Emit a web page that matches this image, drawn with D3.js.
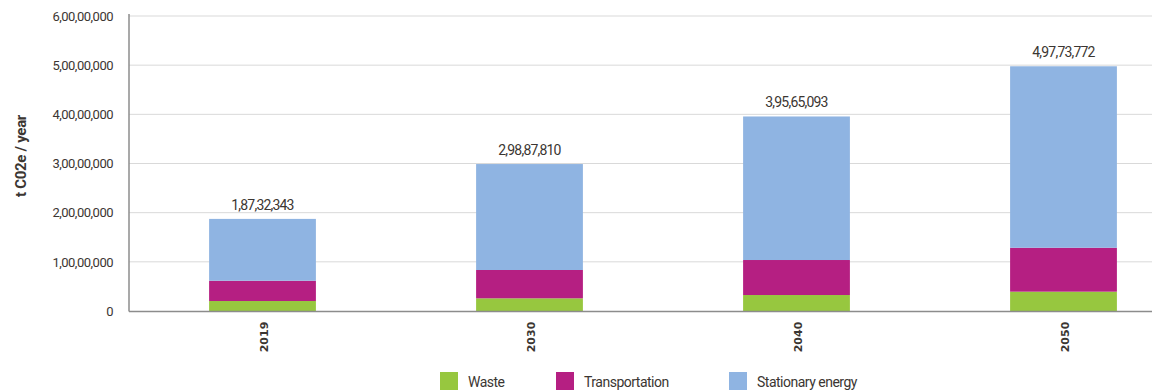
<!DOCTYPE html>
<html>
<head>
<meta charset="utf-8">
<script src="https://cdn.jsdelivr.net/npm/d3@7"></script>
<style>
  html, body { margin: 0; padding: 0; background: #fff; }
  svg { display: block; }
  text { font-family: "Roboto", "DejaVu Sans Condensed", sans-serif; fill: #3b3632; }
</style>
</head>
<body>
<svg id="chart" width="1152" height="392"></svg>
<script>
// Emissions by sector, tonnes CO2e per year
const years = ["2019", "2030", "2040", "2050"];
const waste = [2030000, 2580000, 3250000, 3930000];
const transportation = [4130000, 5760000, 7120000, 8940000];
const totals = [18732343, 29887810, 39565093, 49773772];
const seriesNames = ["Waste", "Transportation", "Stationary energy"];
const seriesColors = ["#97c73f", "#b51f82", "#8fb4e2"];
const yTicks = [0, 10000000, 20000000, 30000000, 40000000, 50000000, 60000000];

// Stationary energy is the remainder of each total
const stationary = totals.map((t, i) => t - waste[i] - transportation[i]);

const rows = years.map((y, i) => ({
  year: y,
  "Waste": waste[i],
  "Transportation": transportation[i],
  "Stationary energy": stationary[i],
  total: totals[i]
}));

// Indian digit grouping: 1,87,32,343
function indianFormat(n) {
  const s = String(Math.round(n));
  if (s.length <= 3) return s;
  const last3 = s.slice(-3);
  let rest = s.slice(0, -3);
  const parts = [];
  while (rest.length > 2) {
    parts.unshift(rest.slice(-2));
    rest = rest.slice(0, -2);
  }
  if (rest.length) parts.unshift(rest);
  return parts.join(",") + "," + last3;
}

const svg = d3.select("#chart");
const plotLeft = 129, plotRight = 1152, plotTop = 16, plotBottom = 311;

const x = d3.scaleBand().domain(years).range([plotLeft, plotLeft + 267 * 4]).paddingInner(0.6).paddingOuter(0.3);
const y = d3.scaleLinear().domain([0, 60000000]).range([plotBottom, plotTop]);

// Gridlines
svg.append("g")
  .selectAll("line")
  .data(yTicks.filter(d => d > 0))
  .join("line")
  .attr("x1", plotLeft).attr("x2", plotRight)
  .attr("y1", d => y(d)).attr("y2", d => y(d))
  .attr("stroke", "#d9d9d9").attr("stroke-width", 1);

// Y axis labels
const yAxis = d3.axisLeft(y).tickValues(yTicks).tickFormat(indianFormat).tickSize(0).tickPadding(16);
const yg = svg.append("g").attr("transform", `translate(${plotLeft},0)`).call(yAxis);
yg.select(".domain").remove();
yg.selectAll("text").style("font-size", "13px").style("letter-spacing", "-0.5px")
  .attr("fill", "#3b3632").style("font-family", "'Roboto', sans-serif");

// Stacked bars
const stack = d3.stack().keys(seriesNames)(rows);
svg.append("g")
  .selectAll("g")
  .data(stack)
  .join("g")
  .attr("fill", (d, i) => seriesColors[i])
  .selectAll("rect")
  .data(d => d)
  .join("rect")
  .attr("x", d => x(d.data.year))
  .attr("width", x.bandwidth())
  .attr("y", d => y(d[1]))
  .attr("height", d => y(d[0]) - y(d[1]));

// Total labels above bars
svg.append("g")
  .selectAll("text")
  .data(rows)
  .join("text")
  .attr("x", d => x(d.year) + x.bandwidth() / 2)
  .attr("y", d => y(d.total) - 9)
  .attr("text-anchor", "middle")
  .style("font-size", "14px")
  .style("letter-spacing", "-0.8px")
  .text(d => indianFormat(d.total));

// Axis lines
svg.append("line").attr("x1", plotLeft).attr("x2", plotLeft).attr("y1", 14).attr("y2", plotBottom + 0.5)
  .attr("stroke", "#8c8c8c").attr("stroke-width", 1.5);
svg.append("line").attr("x1", plotLeft).attr("x2", plotRight).attr("y1", plotBottom + 0.5).attr("y2", plotBottom + 0.5)
  .attr("stroke", "#8c8c8c").attr("stroke-width", 1.5);

// X axis labels, rotated
svg.append("g")
  .selectAll("text")
  .data(years)
  .join("text")
  .attr("transform", d => `translate(${x(d) + x.bandwidth() / 2 + 5},337) rotate(-90)`)
  .attr("text-anchor", "middle")
  .style("font-weight", "bold")
  .style("font-family", "'DejaVu Sans', sans-serif")
  .style("font-size", "11px")
  .text(d => d);

// Y axis title
svg.append("text")
  .attr("transform", `translate(26,156) rotate(-90)`)
  .attr("text-anchor", "middle")
  .style("font-size", "15px")
  .style("font-weight", "bold")
  .style("letter-spacing", "-0.3px")
  .text("t C02e / year");

// Legend
const legendX = [440, 556, 729];
const lg = svg.append("g")
  .selectAll("g")
  .data(seriesNames)
  .join("g")
  .attr("transform", (d, i) => `translate(${legendX[i]},372)`);
lg.append("rect").attr("width", 18).attr("height", 18).attr("fill", (d, i) => seriesColors[i]);
lg.append("text").attr("x", 28).attr("y", 15).style("font-size", "14px").style("letter-spacing", "-0.5px").text(d => d);
</script>
</body>
</html>
